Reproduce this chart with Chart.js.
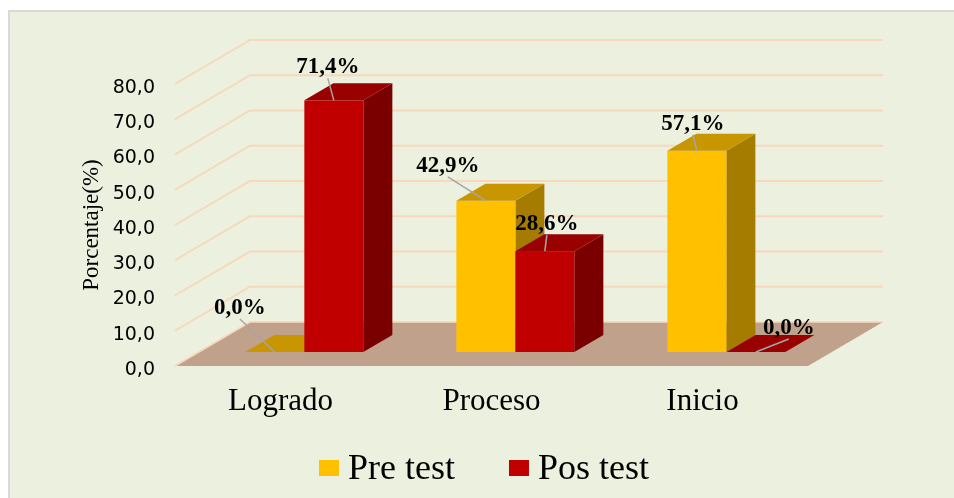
<!DOCTYPE html>
<html>
<head>
<meta charset="utf-8">
<script src="https://cdn.jsdelivr.net/npm/chart.js@4.4.0/dist/chart.umd.min.js"></script>
<style>
  html, body { margin: 0; padding: 0; background: #fff; }
  canvas { display: block; }
</style>
</head>
<body>
<canvas id="chart" width="954" height="498"></canvas>
<script>
const categories = ['Logrado', 'Proceso', 'Inicio'];
const preTest = [0.0, 42.9, 57.1];
const posTest = [71.4, 28.6, 0.0];
const yMin = 0, yMax = 80, yStep = 10;

// where each value label sits, relative to the top front edge of its bar
const preLabelOffsets = [[-35, -44], [-38, -35], [-4, -27]];
const posLabelOffsets = [[-6, -33], [2, -27], [33, -24]];

// oblique depth of the 3D box: back wall offset and where the bars stand
const depth = { dx: 75, dy: -44, front: 0.318, back: 0.705 };
const faces = [
    { front: '#FFC000', top: '#C79600', side: '#A67C00' },
    { front: '#C00000', top: '#990000', side: '#7A0000' }
];
const gridColor = '#F9D7BA';

function poly(ctx, color, pts) {
    ctx.fillStyle = color;
    ctx.beginPath();
    ctx.moveTo(pts[0][0], pts[0][1]);
    for (let k = 1; k < pts.length; k++) ctx.lineTo(pts[k][0], pts[k][1]);
    ctx.closePath();
    ctx.fill();
}

const threeD = {
    id: 'threeD',
    beforeDraw(chart) {
        const ctx = chart.ctx;
        ctx.save();
        ctx.fillStyle = '#fff';
        ctx.fillRect(0, 0, chart.width, chart.height);
        ctx.fillStyle = '#EBF1DE';
        ctx.fillRect(8, 10, chart.width - 8, chart.height - 10);
        ctx.strokeStyle = '#D9D9D9';
        ctx.lineWidth = 2;
        ctx.beginPath();
        ctx.moveTo(9, chart.height);
        ctx.lineTo(9, 11);
        ctx.lineTo(chart.width, 11);
        ctx.stroke();
        ctx.restore();
    },
    beforeDatasetsDraw(chart, args, opts) {
        const { ctx, chartArea: a, scales: { y } } = chart;
        ctx.save();

        // side and back wall gridlines
        ctx.strokeStyle = gridColor;
        ctx.lineWidth = 2;
        y.ticks.forEach(t => {
            if (t.value === yMin) return;
            const py = y.getPixelForValue(t.value);
            ctx.beginPath();
            ctx.moveTo(a.left, py);
            ctx.lineTo(a.left + depth.dx, py + depth.dy);
            ctx.lineTo(a.right + depth.dx, py + depth.dy);
            ctx.stroke();
        });

        // floor
        const base = y.getPixelForValue(yMin);
        poly(ctx, '#C0A18B', [
            [a.left, base], [a.left + depth.dx, base + depth.dy],
            [a.right + depth.dx, base + depth.dy], [a.right, base]
        ]);
        ctx.lineWidth = 1.5;
        ctx.beginPath();
        ctx.moveTo(a.left, base);
        ctx.lineTo(a.left + depth.dx, base + depth.dy);
        ctx.lineTo(a.right + depth.dx, base + depth.dy);
        ctx.stroke();

        // bars as boxes
        const fx = depth.dx * depth.front, fy = depth.dy * depth.front;
        const sx = depth.dx * (depth.back - depth.front), sy = depth.dy * (depth.back - depth.front);
        categories.forEach((c, i) => {
            chart.data.datasets.forEach((ds, d) => {
                const bar = chart.getDatasetMeta(d).data[i];
                const l = bar.x - bar.width / 2 + fx, r = bar.x + bar.width / 2 + fx;
                const top = bar.y + fy, bot = bar.base + fy;
                const f = faces[d];
                poly(ctx, f.side, [[r, top], [r + sx, top + sy], [r + sx, bot + sy], [r, bot]]);
                ctx.fillStyle = f.front;
                ctx.fillRect(l, top, r - l, bot - top);
                poly(ctx, f.top, [[l, top], [l + sx, top + sy], [r + sx, top + sy], [r, top]]);
            });
        });

        // value labels with leader lines
        ctx.font = 'bold 23px "Liberation Serif"';
        ctx.textAlign = 'center';
        ctx.textBaseline = 'middle';
        chart.data.datasets.forEach((ds, d) => {
            const meta = chart.getDatasetMeta(d);
            ds.data.forEach((v, i) => {
                const bar = meta.data[i];
                const ax = bar.x + fx, ay = bar.y + fy;
                const lx = ax + opts.labelOffsets[d][i][0];
                const ly = ay + opts.labelOffsets[d][i][1];
                ctx.strokeStyle = '#A6A6A6';
                ctx.lineWidth = 1.5;
                ctx.beginPath();
                ctx.moveTo(lx, ly + 11);
                ctx.lineTo(ax, ay);
                ctx.stroke();
                ctx.fillStyle = '#000';
                ctx.fillText(v.toFixed(1).replace('.', ',') + '%', lx, ly);
            });
        });

        ctx.restore();
        return false;
    },
    afterDraw(chart, args, opts) {
        // legend below the category labels
        const ctx = chart.ctx;
        const L = opts.legend;
        ctx.save();
        ctx.font = L.font;
        ctx.textBaseline = 'middle';
        ctx.textAlign = 'left';
        const items = chart.data.datasets.map(ds => ({
            text: ds.label, color: ds.backgroundColor, w: ctx.measureText(ds.label).width
        }));
        let total = (items.length - 1) * L.itemGap;
        items.forEach(it => { total += L.boxW + L.textGap + it.w; });
        let x = L.centerX - total / 2;
        items.forEach(it => {
            ctx.fillStyle = it.color;
            ctx.fillRect(x, L.centerY - L.boxH / 2, L.boxW, L.boxH);
            ctx.fillStyle = '#000';
            ctx.fillText(it.text, x + L.boxW + L.textGap, L.centerY + 2);
            x += L.boxW + L.textGap + it.w + L.itemGap;
        });
        ctx.restore();
    }
};

new Chart(document.getElementById('chart'), {
    type: 'bar',
    data: {
        labels: categories,
        datasets: [
            { label: 'Pre test', data: preTest, backgroundColor: faces[0].front, borderWidth: 0 },
            { label: 'Pos test', data: posTest, backgroundColor: faces[1].front, borderWidth: 0 }
        ]
    },
    options: {
        responsive: false,
        animation: false,
        layout: { padding: { left: 60, right: 146, top: 84, bottom: 72 } },
        datasets: { bar: { categoryPercentage: 0.559, barPercentage: 1 } },
        scales: {
            x: {
                grid: { display: false, drawTicks: false },
                border: { display: false },
                ticks: { color: '#000', padding: 17, font: { family: 'Liberation Serif', size: 31 } },
                afterFit(scale) { scale.height = 60; }
            },
            y: {
                min: yMin,
                max: yMax,
                grid: { display: false, drawTicks: false },
                border: { display: false },
                ticks: {
                    stepSize: yStep,
                    color: '#000',
                    padding: 20,
                    labelOffset: 4,
                    font: { family: 'DejaVu Sans', size: 19 },
                    callback: v => v.toFixed(1).replace('.', ',')
                },
                title: {
                    display: true,
                    text: 'Porcentaje(%)',
                    color: '#000',
                    padding: { top: 18, bottom: 0 },
                    font: { family: 'Liberation Serif', size: 23 }
                },
                afterFit(scale) { scale.width = 115; }
            }
        },
        plugins: {
            tooltip: { enabled: false },
            legend: { display: false },
            threeD: {
                labelOffsets: [preLabelOffsets, posLabelOffsets],
                legend: {
                    font: '36px "Liberation Serif"', centerX: 484, centerY: 468,
                    boxW: 20, boxH: 16, textGap: 9, itemGap: 54
                }
            }
        }
    },
    plugins: [threeD]
});
</script>
</body>
</html>
